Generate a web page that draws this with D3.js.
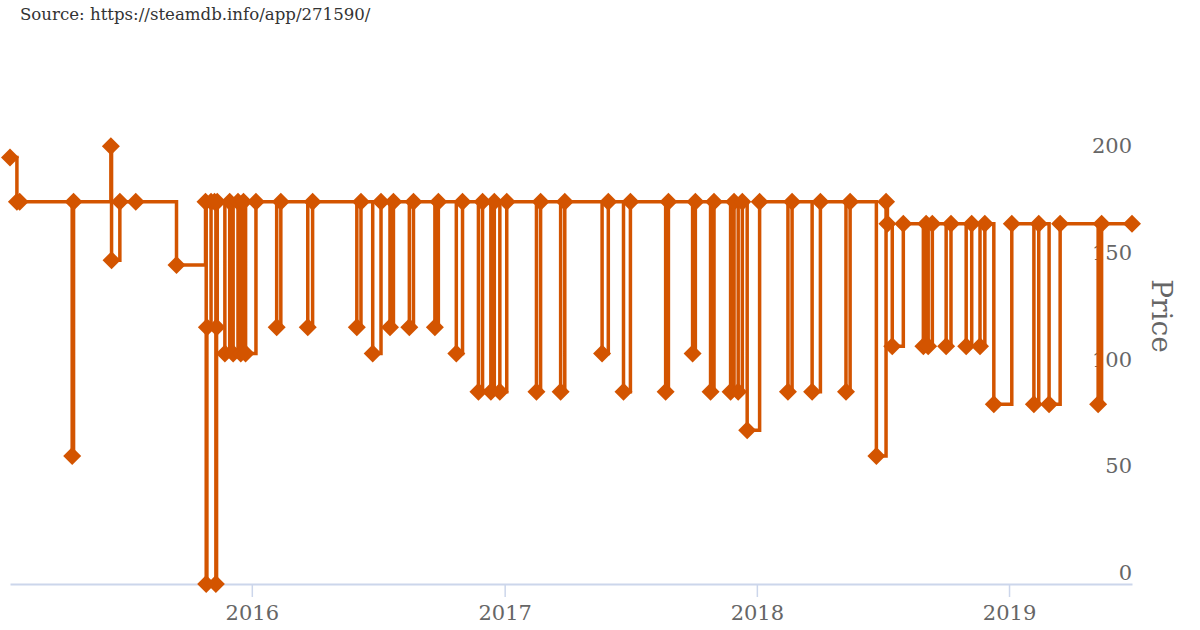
<!DOCTYPE html>
<html>
<head>
<meta charset="utf-8">
<script src="https://cdn.jsdelivr.net/npm/d3@7/dist/d3.min.js"></script>
<style>
  html, body { margin: 0; padding: 0; background: #ffffff; }
  svg { display: block; font-family: "DejaVu Serif", serif; }
</style>
</head>
<body>
<svg id="chart" width="1200" height="630"></svg>
<script>
// ---- Data (Steam price history, app 271590) ----
const dates = [
  "2015-01-16","2015-01-26","2015-01-30","2015-04-16","2015-04-18","2015-06-11","2015-06-12","2015-06-24","2015-07-17","2015-09-14",
  "2015-10-26","2015-10-27","2015-10-28","2015-11-03","2015-11-08","2015-11-10","2015-11-11","2015-11-12",
  "2015-11-23","2015-11-30","2015-12-05","2015-12-12","2015-12-16","2015-12-20","2015-12-23","2016-01-07",
  "2016-02-06","2016-02-12","2016-03-22","2016-03-29","2016-06-01","2016-06-07","2016-06-24","2016-07-06","2016-07-19","2016-07-24",
  "2016-08-16","2016-08-22","2016-09-22","2016-09-27","2016-10-23","2016-11-01","2016-11-24","2016-11-30","2016-12-12","2016-12-17","2016-12-25","2017-01-04",
  "2017-02-16","2017-02-22","2017-03-23","2017-03-29","2017-05-22","2017-05-31","2017-06-22","2017-07-02","2017-08-22","2017-08-26",
  "2017-09-30","2017-10-04","2017-10-26","2017-10-31","2017-11-24","2017-11-29","2017-12-05","2017-12-11","2017-12-18","2018-01-05",
  "2018-02-15","2018-02-21","2018-03-22","2018-04-03","2018-05-10","2018-05-16","2018-06-23","2018-07-07","2018-07-09","2018-07-16",
  "2018-08-01","2018-08-30","2018-09-03","2018-09-06","2018-09-12","2018-10-02","2018-10-09","2018-10-31","2018-11-08","2018-11-20",
  "2018-11-27","2018-12-10","2019-01-05",
  "2019-02-06","2019-02-13","2019-02-28","2019-03-16","2019-05-10","2019-05-15","2019-06-28"
];
const prices = [
  200,179.2,179.2,60,179.2,205.3,151.8,179.2,179.2,149.6,
  179.2,0,120.4,179.2,179.2,0,120.4,179.2,
  108.1,179.2,108.1,179.2,108.1,179.2,108.1,179.2,
  120.4,179.2,120.4,179.2,120.4,179.2,108.1,179.2,120.4,179.2,
  120.4,179.2,120.4,179.2,108.1,179.2,90.1,179.2,90.1,179.2,90.1,179.2,
  90.1,179.2,90.1,179.2,108.1,179.2,90.1,179.2,90.1,179.2,
  108.1,179.2,90.1,179.2,90.1,179.2,90.1,179.2,72.1,179.2,
  90.1,179.2,90.1,179.2,90.1,179.2,60,179.2,168.9,111.5,
  168.9,111.5,168.9,111.5,168.9,111.5,168.9,111.5,168.9,111.5,
  168.9,84.3,168.9,
  84.3,168.9,84.3,168.9,84.3,168.9,168.9
];
const yTicks = [0, 50, 100, 150, 200];
const xTickYears = ["2016", "2017", "2018", "2019"];
const sourceText = "Source: https://steamdb.info/app/271590/";
const yTitle = "Price";

// ---- Setup ----
const parse = d3.utcParse("%Y-%m-%d");
const data = dates.map((d, i) => ({ date: parse(d), price: prices[i] }));

const svg = d3.select("#chart");
const color = "#d35400";
const axisColor = "#ccd6eb";
const labelColor = "#666666";

const x = d3.scaleUtc()
  .domain(d3.extent(data, d => d.date))
  .range([10, 1132]);
const y = d3.scaleLinear()
  .domain([0, 200])
  .range([584, 157.5]);

// Source caption
svg.append("text")
  .attr("x", 20).attr("y", 20)
  .attr("font-size", 16.6)
  .attr("fill", "#333333")
  .text(sourceText);

// X axis
const xAxis = d3.axisBottom(x)
  .tickValues(xTickYears.map(t => parse(t + "-01-01")))
  .tickFormat(d3.utcFormat("%Y"))
  .tickSizeInner(13)
  .tickSizeOuter(0)
  .tickPadding(8);
const gx = svg.append("g")
  .attr("transform", "translate(0,584)")
  .call(xAxis);
gx.select(".domain").attr("stroke", axisColor).attr("stroke-width", 2);
gx.selectAll(".tick line").attr("stroke", axisColor).attr("stroke-width", 1.5);
gx.selectAll(".tick text")
  .attr("font-family", "DejaVu Serif, serif")
  .attr("font-size", 21)
  .attr("fill", labelColor)
  .attr("dy", "0.71em");

// Y axis labels (right side, no line), drawn above each tick
const yAxis = d3.axisRight(y)
  .tickValues(yTicks)
  .tickSize(0)
  .tickPadding(0);
const gy = svg.append("g")
  .attr("transform", "translate(1132,0)")
  .call(yAxis);
gy.select(".domain").remove();
gy.selectAll(".tick text")
  .attr("font-family", "DejaVu Serif, serif")
  .attr("font-size", 21)
  .attr("fill", labelColor)
  .attr("text-anchor", "end")
  .attr("x", 0)
  .attr("dy", "-0.22em");

// Y title
svg.append("text")
  .attr("transform", "translate(1152,316) rotate(90)")
  .attr("text-anchor", "middle")
  .attr("font-size", 28)
  .attr("fill", labelColor)
  .text(yTitle);

// Step line
const line = d3.line()
  .x(d => x(d.date))
  .y(d => y(d.price))
  .curve(d3.curveStepAfter);
svg.append("path")
  .datum(data)
  .attr("d", line)
  .attr("fill", "none")
  .attr("stroke", color)
  .attr("stroke-width", 3.5)
  .attr("stroke-linejoin", "miter");

// Diamond markers
const r = 9;
const diamond = `M0,${-r}L${r},0L0,${r}L${-r},0Z`;
svg.append("g")
  .selectAll("path")
  .data(data)
  .join("path")
  .attr("d", diamond)
  .attr("transform", d => `translate(${x(d.date)},${y(d.price)})`)
  .attr("fill", color);
</script>
</body>
</html>
